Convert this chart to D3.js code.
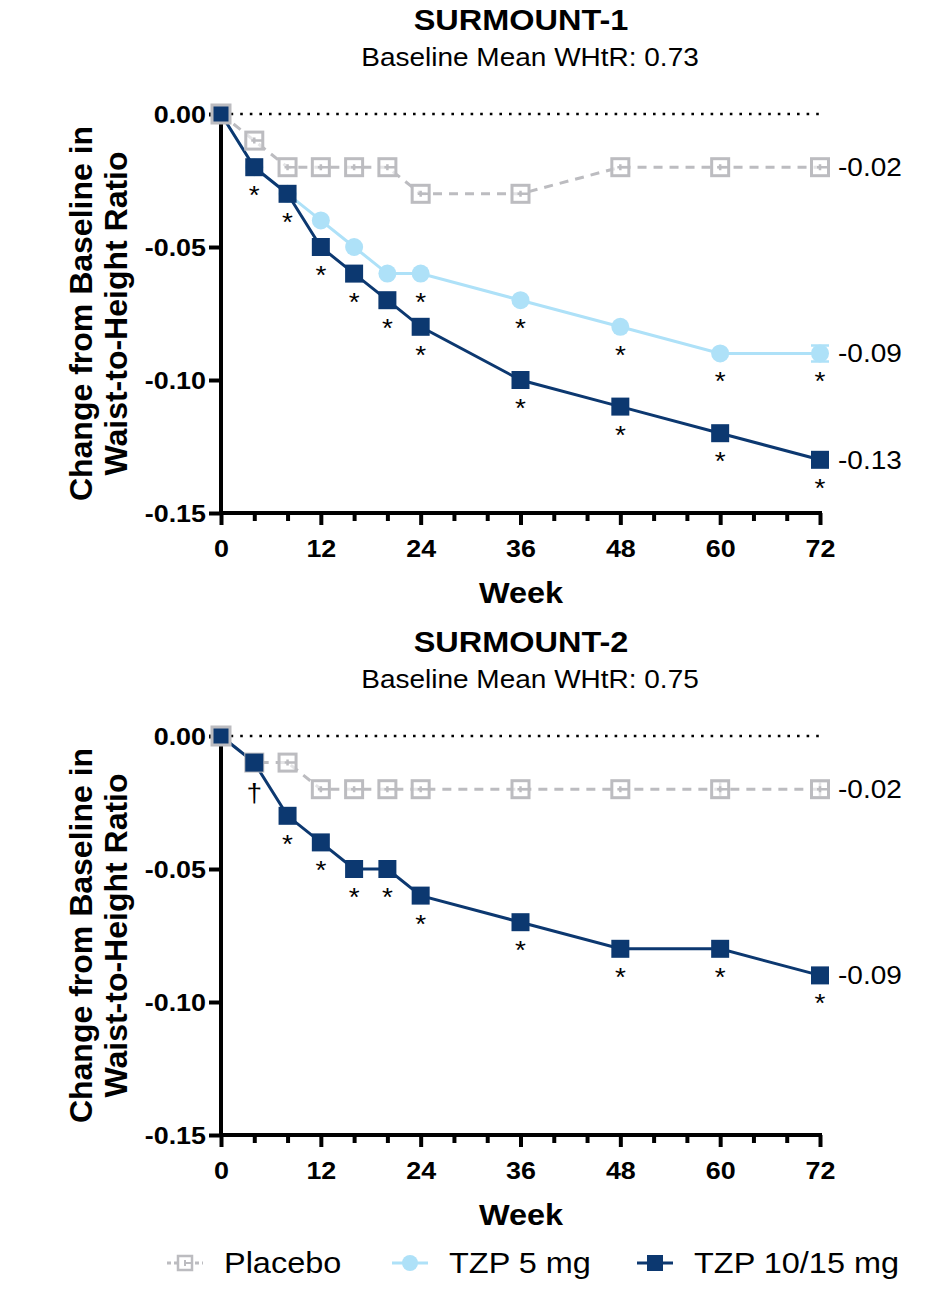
<!DOCTYPE html>
<html>
<head>
<meta charset="utf-8">
<script src="https://cdn.jsdelivr.net/npm/d3@7"></script>
<style>
  body { margin: 0; background: #fff; }
  svg { display: block; font-family: "Liberation Sans", Arial, sans-serif; }
</style>
</head>
<body>
<svg width="928" height="1294"></svg>
<script>
// data
var weeks = [0, 4, 8, 12, 16, 20, 24, 36, 48, 60, 72];
var xTicks = [0, 12, 24, 36, 48, 60, 72];
var yTicks = [0, -0.05, -0.10, -0.15];

var s1Placebo = [0, -0.01, -0.02, -0.02, -0.02, -0.02, -0.03, -0.03, -0.02, -0.02, -0.02];
var s1Tzp5    = [0, -0.02, -0.03, -0.04, -0.05, -0.06, -0.06, -0.07, -0.08, -0.09, -0.09];
var s1Tzp10   = [0, -0.02, -0.03, -0.05, -0.06, -0.07, -0.08, -0.10, -0.11, -0.12, -0.13];
var s1Tzp5Err = [0, 0, 0, 0, 0, 0, 0, 0, 0, 0, 0.003];
var s1Tzp5Sig  = ['', '', '', '*', '*', '*', '*', '*', '*', '*', '*'];
var s1Tzp10Sig = ['', '*', '*', '*', '*', '*', '*', '*', '*', '*', '*'];

var s2Placebo = [0, -0.01, -0.01, -0.02, -0.02, -0.02, -0.02, -0.02, -0.02, -0.02, -0.02];
var s2Tzp10   = [0, -0.01, -0.03, -0.04, -0.05, -0.05, -0.06, -0.07, -0.08, -0.08, -0.09];
var s2PlaceboErr = [0, 0, 0, 0, 0, 0, 0, 0, 0, 0.003, 0.003];
var s2Tzp10Sig = ['', '\u2020', '*', '*', '*', '*', '*', '*', '*', '*', '*'];

var legendNames = ['Placebo', 'TZP 5 mg', 'TZP 10/15 mg'];

var grey = '#bcbcc0', light = '#aee1f8', navy = '#0c3870';
var stretch = 1.12;   // text in the picture is a little wider than the font

var svg = d3.select('svg');
var xScale = d3.scaleLinear().domain([0, 72]).range([221, 820]);
var fmt = function (d) { return d3.format('.2f')(d).replace('\u2212', '-'); };

// text helper, stretched sideways
function label(g, x, y, str, size, bold, anchor) {
  return g.append('text')
    .attr('transform', 'translate(' + x + ',' + y + ') scale(' + stretch + ',1)')
    .attr('text-anchor', anchor || 'start')
    .style('font-size', size + 'px')
    .style('font-weight', bold ? 'bold' : 'normal')
    .text(str);
}

function drawPanel(top, title, subtitle, series) {
  var yScale = d3.scaleLinear().domain([0, -0.15]).range([top, top + 399]);
  var g = svg.append('g');

  label(g, 521, top - 84, title, 29, true, 'middle');
  label(g, 530, top - 48, subtitle, 25, false, 'middle');

  // dotted zero line
  g.append('line').attr('x1', xScale(0)).attr('x2', xScale(72))
    .attr('y1', yScale(0)).attr('y2', yScale(0))
    .attr('stroke', '#000').attr('stroke-width', 2.6).attr('stroke-dasharray', '2.6,7');

  // axes
  var xAxis = d3.axisBottom(xScale).tickValues(d3.range(0, 73, 4))
    .tickFormat(function (d) { return xTicks.indexOf(d) >= 0 ? d : ''; })
    .tickSizeOuter(0);
  var gx = g.append('g').attr('transform', 'translate(0,' + yScale(-0.15) + ')').call(xAxis);
  gx.select('.domain').attr('stroke-width', 4).attr('d', 'M' + (xScale(0) - 2) + ',0H' + (xScale(72) + 2));
  gx.selectAll('.tick line').attr('stroke-width', 4)
    .attr('y2', function (d) { return xTicks.indexOf(d) >= 0 ? 12 : 8; });
  gx.selectAll('.tick text').attr('y', 0).attr('dy', 0)
    .attr('transform', 'translate(0,44) scale(' + stretch + ',1)')
    .style('font-size', '24px').style('font-weight', 'bold').attr('fill', '#000');

  var yAxis = d3.axisLeft(yScale).tickValues(yTicks).tickFormat(fmt)
    .tickSize(12).tickSizeOuter(0);
  var gy = g.append('g').attr('transform', 'translate(' + xScale(0) + ',0)').call(yAxis);
  gy.select('.domain').attr('stroke-width', 4).attr('d', 'M0,' + (yScale(0) - 2) + 'V' + (yScale(-0.15) + 2));
  gy.selectAll('.tick line').attr('stroke-width', 4);
  gy.selectAll('.tick text').attr('x', 0).attr('dy', '0.36em')
    .attr('transform', 'translate(-15,0) scale(' + stretch + ',1)')
    .style('font-size', '24px').style('font-weight', 'bold').attr('fill', '#000');

  label(g, 521, yScale(-0.15) + 90, 'Week', 29, true, 'middle');

  var ymid = yScale(-0.075);
  g.append('text').attr('transform', 'translate(92,' + ymid + ') rotate(-90)')
    .attr('text-anchor', 'middle').style('font-weight', 'bold').style('font-size', '32px')
    .text('Change from Baseline in');
  g.append('text').attr('transform', 'translate(127,' + ymid + ') rotate(-90)')
    .attr('text-anchor', 'middle').style('font-weight', 'bold').style('font-size', '32px')
    .text('Waist-to-Height Ratio');

  var line = d3.line().x(function (d, i) { return xScale(weeks[i]); }).y(function (d) { return yScale(d); });

  series.forEach(function (s) {
    g.append('path').datum(s.values).attr('d', line).attr('fill', 'none')
      .attr('stroke', s.color).attr('stroke-width', 3)
      .attr('stroke-dasharray', s.dash ? '9,7' : null);
  });

  series.forEach(function (s) {
    var pts = g.append('g');
    s.values.forEach(function (v, i) {
      var cx = xScale(weeks[i]), cy = yScale(v);
      var e = s.err ? s.err[i] : 0;
      if (e > 0) {
        var y1 = yScale(v + e), y2 = yScale(v - e);
        pts.append('path').attr('d', 'M' + cx + ',' + y1 + 'V' + y2 + 'M' + (cx - 9) + ',' + y1 + 'H' + (cx + 9) +
          'M' + (cx - 9) + ',' + y2 + 'H' + (cx + 9))
          .attr('stroke', s.color).attr('stroke-width', 2.5).attr('fill', 'none');
      }
      if (s.shape === 'open') {
        pts.append('rect').attr('x', cx - 8.5).attr('y', cy - 8.5).attr('width', 17).attr('height', 17)
          .attr('fill', '#fff').attr('fill-opacity', 0.6).attr('stroke', s.color).attr('stroke-width', 3);
        pts.append('path').attr('d', 'M' + cx + ',' + (cy - 3) + 'V' + (cy + 3) + 'M' + (cx - 3) + ',' + cy + 'H' + (cx + 8.5))
          .attr('stroke', s.color).attr('stroke-width', 2.5);
      } else if (s.shape === 'circle') {
        pts.append('circle').attr('cx', cx).attr('cy', cy).attr('r', 9).attr('fill', s.color);
      } else {
        pts.append('rect').attr('x', cx - 9).attr('y', cy - 9).attr('width', 18).attr('height', 18)
          .attr('fill', s.color).attr('stroke', i === 0 ? grey : 'none').attr('stroke-width', 3);
      }
      if (s.sig && s.sig[i]) {
        var star = s.sig[i] === '*';
        label(pts, cx, cy + (star ? 37 : 39), s.sig[i], star ? 25 : 25, false, 'middle');
      }
    });
  });

  series.forEach(function (s) {
    var v = s.values[s.values.length - 1];
    label(g, 838, yScale(v) + 9, fmt(v), 25, false, 'start');
  });
}

drawPanel(114, 'SURMOUNT-1', 'Baseline Mean WHtR: 0.73', [
  { values: s1Placebo, color: grey, dash: true, shape: 'open' },
  { values: s1Tzp5, color: light, shape: 'circle', err: s1Tzp5Err, sig: s1Tzp5Sig },
  { values: s1Tzp10, color: navy, shape: 'square', sig: s1Tzp10Sig }
]);

drawPanel(736, 'SURMOUNT-2', 'Baseline Mean WHtR: 0.75', [
  { values: s2Placebo, color: grey, dash: true, shape: 'open', err: s2PlaceboErr },
  { values: s2Tzp10, color: navy, shape: 'square', sig: s2Tzp10Sig }
]);

// legend
var legendX = [185, 410, 655];
var legendColors = [grey, light, navy];
var leg = svg.append('g').attr('transform', 'translate(0,1263)');
legendNames.forEach(function (name, i) {
  var cx = legendX[i];
  leg.append('line').attr('x1', cx - 18).attr('x2', cx + 18).attr('stroke', legendColors[i])
    .attr('stroke-width', 3).attr('stroke-dasharray', i === 0 ? '4,3' : null);
  if (i === 0) {
    leg.append('rect').attr('x', cx - 7).attr('y', -7).attr('width', 14).attr('height', 14)
      .attr('fill', '#fff').attr('stroke', grey).attr('stroke-width', 2.5);
    leg.append('path').attr('d', 'M' + cx + ',-3V3M' + cx + ',0H' + (cx + 7)).attr('stroke', grey).attr('stroke-width', 2);
  } else if (i === 1) {
    leg.append('circle').attr('cx', cx).attr('r', 8).attr('fill', light);
  } else {
    leg.append('rect').attr('x', cx - 8).attr('y', -8).attr('width', 16).attr('height', 16).attr('fill', navy);
  }
  label(leg, cx + 39, 10, name, 29, false, 'start');
});
</script>
</body>
</html>
